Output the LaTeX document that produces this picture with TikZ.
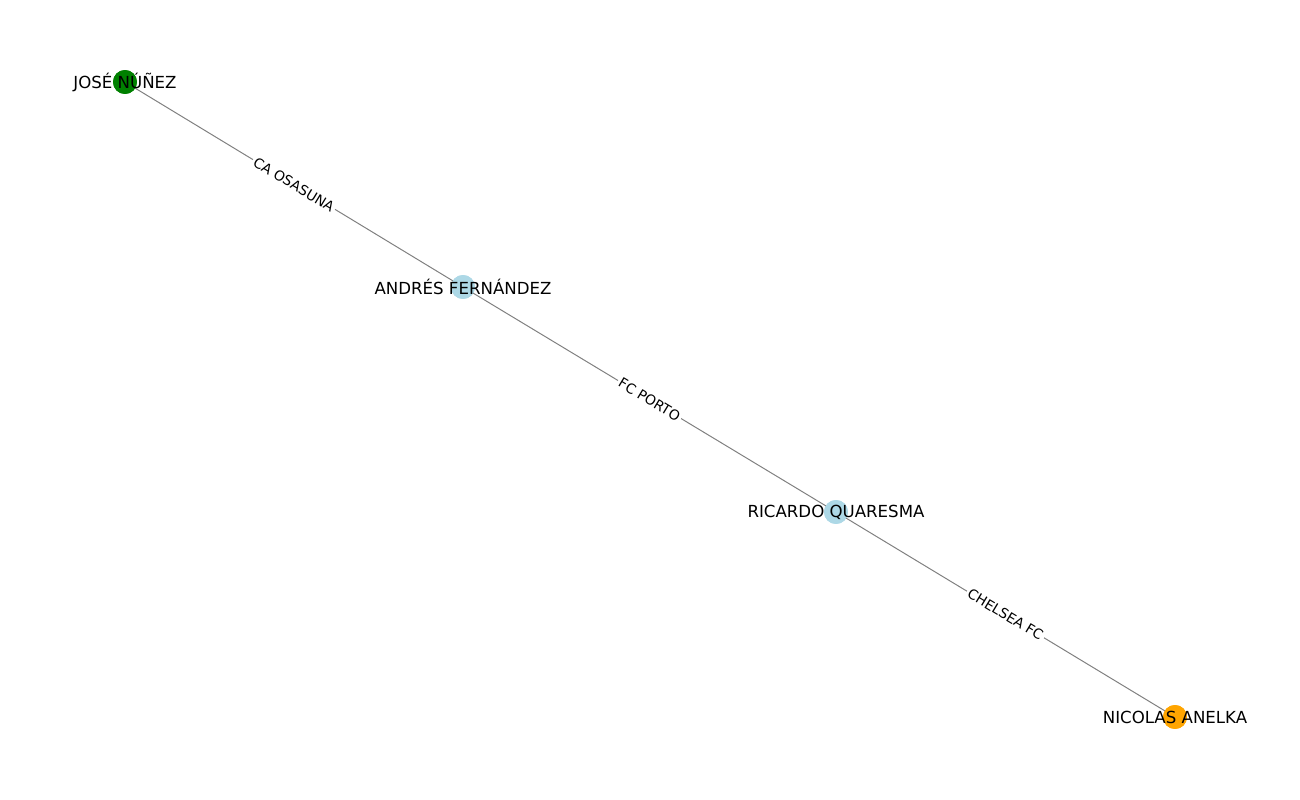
\documentclass[tikz,border=0pt]{standalone}
\usepackage{fontspec}
\setmainfont{DejaVu Sans}
\begin{document}
\begin{tikzpicture}[x=0.01in,y=-0.01in,
  vert/.style={circle,minimum size=17.3pt,inner sep=0pt,draw=none},
  vlabel/.style={font=\fontsize{12pt}{14pt}\selectfont,text=black,inner sep=0pt},
  edgeline/.style={draw={rgb,255:red,128;green,128;blue,128},line width=0.72pt},
  elabel/.style={font=\fontsize{10pt}{12pt}\selectfont,fill=white,inner sep=1.5pt,sloped,pos=0.5}]
\useasboundingbox (0,0) rectangle (1300,800);
\definecolor{nodegreen}{RGB}{0,128,0}
\definecolor{nodeblue}{RGB}{173,216,230}
\definecolor{nodeorange}{RGB}{255,165,0}
\node[vert,fill=nodegreen] (jn) at (125,82) {};
\node[vert,fill=nodeblue] (af) at (463,287) {};
\node[vert,fill=nodeblue] (rq) at (836,512) {};
\node[vert,fill=nodeorange] (na) at (1175,717) {};
\begin{scope}[on background layer/.style={}]
\draw[edgeline] (jn.center) -- (af.center) node[elabel] {CA OSASUNA};
\draw[edgeline] (af.center) -- (rq.center) node[elabel] {FC PORTO};
\draw[edgeline] (rq.center) -- (na.center) node[elabel] {CHELSEA FC};
\end{scope}
\node[vert,fill=nodegreen] at (jn) {};
\node[vert,fill=nodeblue] at (af) {};
\node[vert,fill=nodeblue] at (rq) {};
\node[vert,fill=nodeorange] at (na) {};
\node[vlabel] (tjn) at (jn) {JOSÉ NÚÑEZ};
\node[vlabel] (taf) at (af) {ANDRÉS FERNÁNDEZ};
\node[vlabel] (trq) at (rq) {RICARDO QUARESMA};
\node[vlabel] (tna) at (na) {NICOLAS ANELKA};
\end{tikzpicture}
\end{document}
